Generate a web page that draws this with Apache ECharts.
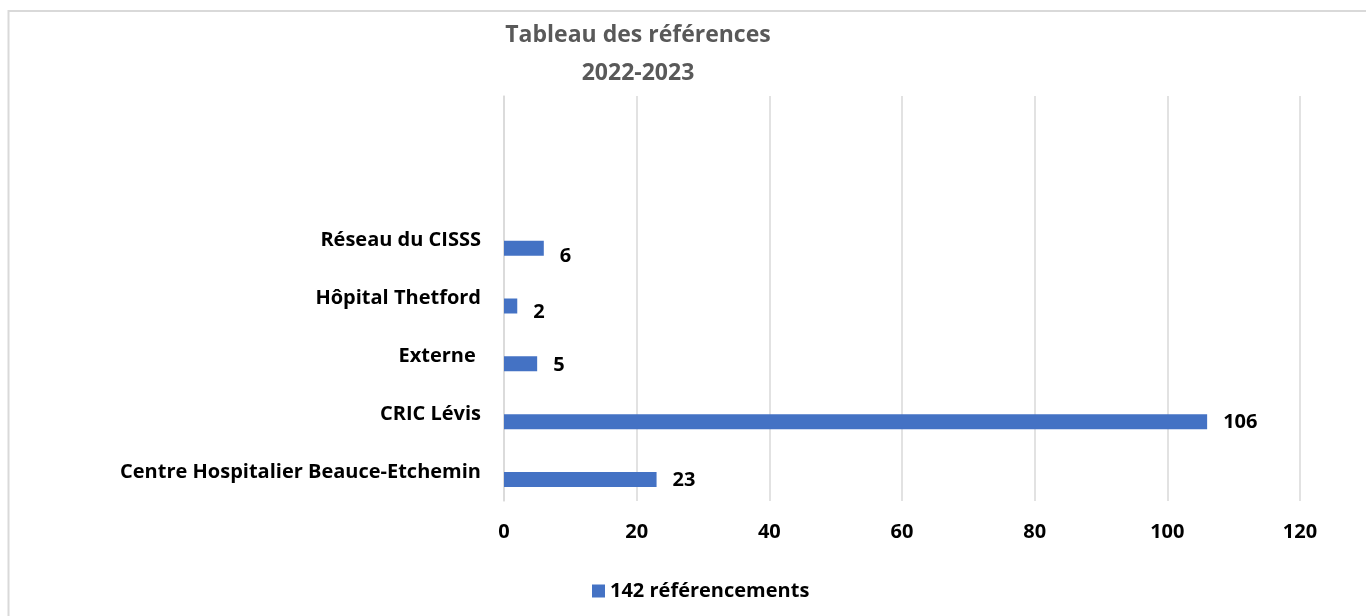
<!DOCTYPE html>
<html><head><meta charset="utf-8">
<script src="https://cdn.jsdelivr.net/npm/echarts@6/dist/echarts.min.js"></script>
<style>html,body{margin:0;padding:0;background:#fff}#c{width:1366px;height:616px}</style>
</head><body><div id="c"></div>
<script>
const titleLines = ['Tableau des références', '2022-2023'];
const categories = ['Centre Hospitalier Beauce-Etchemin', 'CRIC Lévis', 'Externe ', 'Hôpital Thetford', 'Réseau du CISSS', '', ''];
const values = [23, 106, 5, 2, 6, '-', '-'];
const seriesName = '142 référencements';
const xTicks = {min: 0, max: 120, interval: 20};

// label vertical nudges (style only)
const labelNudge = [1, 1, 1, 6, 8, 0, 0];

const FONT = 'Open Sans';
const chart = echarts.init(document.getElementById('c'));
chart.setOption({
  animation: false,
  title: {
    text: titleLines.join('\n'),
    left: 633, top: 11, textAlign: 'center',
    textStyle: {fontFamily: FONT, fontSize: 23, fontWeight: 'bold', color: '#595959', lineHeight: 38}
  },
  graphic: [{type: 'rect', shape: {x: 8.5, y: 11, width: 1500, height: 800},
    style: {fill: 'none', stroke: '#d9d9d9', lineWidth: 2}, silent: true}],
  legend: {
    data: [seriesName], left: 587, top: 576, icon: 'rect', itemWidth: 13, itemHeight: 13, itemGap: 6,
    textStyle: {fontFamily: FONT, fontSize: 20, fontWeight: 'bold', color: '#000'}
  },
  grid: {left: 504, right: 66, top: 96, bottom: 115, containLabel: false},
  xAxis: {
    type: 'value', min: xTicks.min, max: xTicks.max, interval: xTicks.interval,
    axisLine: {show: false}, axisTick: {show: false},
    splitLine: {lineStyle: {color: '#d9d9d9', width: 1.5}},
    axisLabel: {fontFamily: FONT, fontSize: 20, fontWeight: 'bold', color: '#000', margin: 21}
  },
  yAxis: {
    type: 'category', data: categories,
    axisLine: {show: true, lineStyle: {color: '#d9d9d9', width: 1.5}}, axisTick: {show: false},
    axisLabel: {fontFamily: FONT, fontSize: 20, fontWeight: 'bold', color: '#000', margin: 23}
  },
  series: [
    {name: 'dummy', type: 'bar', data: categories.map(() => '-'), barWidth: 15, barGap: '0%'},
    {name: seriesName, type: 'bar', barWidth: 15, barGap: '0%',
     data: values.map((v, i) => ({value: v, label: {offset: [0, labelNudge[i]]}})),
     itemStyle: {color: '#4472C4'},
     label: {show: true, position: 'right', distance: 16, fontFamily: FONT, fontSize: 20, fontWeight: 'bold', color: '#000'}}
  ]
});
</script></body></html>
